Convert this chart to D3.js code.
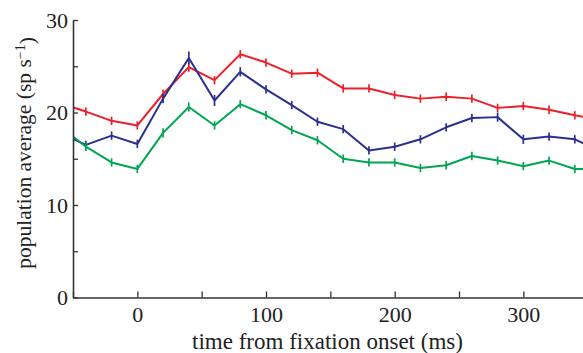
<!DOCTYPE html>
<html><head><meta charset="utf-8">
<script src="https://cdn.jsdelivr.net/npm/d3@7"></script>
<style>body{margin:0;background:#fff}svg{display:block}</style>
</head><body>
<script>
const times = [-60,-40,-20,0,20,40,60,80,100,120,140,160,180,200,220,240,260,280,300,320,340,360];
const redVals   = [21.0,20.1,19.1,18.6,22.0,24.9,23.5,26.3,25.4,24.2,24.3,22.6,22.6,21.9,21.5,21.7,21.5,20.5,20.7,20.3,19.7,19.2];
const blueVals  = [17.8,16.5,17.5,16.6,21.5,25.9,21.3,24.4,22.5,20.8,19.0,18.2,15.9,16.3,17.1,18.4,19.4,19.5,17.1,17.4,17.1,15.8];
const greenVals = [18.5,16.3,14.6,13.9,17.8,20.6,18.6,20.9,19.7,18.1,17.0,15.0,14.6,14.6,14.0,14.3,15.3,14.8,14.2,14.8,13.9,13.9];
const redErr   = [0.45,0.45,0.45,0.45,0.5,0.5,0.45,0.45,0.45,0.45,0.45,0.45,0.45,0.45,0.45,0.45,0.45,0.45,0.45,0.45,0.45,0.45];
const blueErr  = [0.45,0.45,0.45,0.45,0.5,0.7,0.6,0.5,0.45,0.45,0.45,0.45,0.45,0.45,0.45,0.45,0.45,0.5,0.5,0.45,0.45,0.45];
const greenErr = [0.45,0.45,0.45,0.45,0.5,0.5,0.45,0.45,0.45,0.45,0.45,0.45,0.45,0.45,0.45,0.45,0.45,0.45,0.45,0.45,0.45,0.45];
const xMajorTicks = [0,100,200,300];
const xMinorTicks = [-50,50,150,250,350];
const yMajorTicks = [0,10,20,30];
const yMinorTicks = [5,15,25];
const xLabel = "time from fixation onset (ms)";
const yLabelMain = "population average (sp s";
const yLabelSup = "\u22121";

const W = 583, H = 353;
const svg = d3.select("body").append("svg").attr("width", W).attr("height", H);
const x = d3.scaleLinear().domain([-50, 350]).range([73, 73 + 400*1.2867]);
const y = d3.scaleLinear().domain([0, 30]).range([297.5, 20]);

const font = "'Liberation Serif', 'Times New Roman', serif";
const axisColor = "#333";

svg.append("defs").append("clipPath").attr("id","plotclip")
  .append("rect").attr("x", x(-50)).attr("y", 0).attr("width", W - x(-50)).attr("height", y(0));

const series = [
  {vals: redVals, err: redErr, color: "#ec2028"},
  {vals: blueVals, err: blueErr, color: "#2b2f8f"},
  {vals: greenVals, err: greenErr, color: "#00a650"}
];

const g = svg.append("g").attr("clip-path", "url(#plotclip)");
const line = d3.line().x((d,i)=>x(times[i])).y(d=>y(d));
series.forEach(s => {
  g.append("path").datum(s.vals).attr("d", line)
    .attr("fill","none").attr("stroke", s.color).attr("stroke-width", 2).attr("stroke-linejoin","round");
  g.selectAll(null).data(s.vals).enter().append("line")
    .attr("x1",(d,i)=>x(times[i])).attr("x2",(d,i)=>x(times[i]))
    .attr("y1",(d,i)=>y(d - s.err[i])).attr("y2",(d,i)=>y(d + s.err[i]))
    .attr("stroke", s.color).attr("stroke-width", 1.7);
});

// axes
const xAxis = d3.axisBottom(x).tickValues(xMajorTicks).tickSizeInner(-6).tickSizeOuter(0).tickPadding(9).tickFormat(d3.format("d"));
const xg = svg.append("g").attr("transform", `translate(0,${y(0)})`).call(xAxis);
const xMinor = svg.append("g").attr("transform", `translate(0,${y(0)})`)
  .call(d3.axisBottom(x).tickValues(xMinorTicks).tickSizeInner(-6).tickSizeOuter(0).tickFormat(""));
xMinor.select(".domain").remove();

const yAxis = d3.axisLeft(y).tickValues(yMajorTicks).tickSizeInner(-5).tickSizeOuter(0).tickPadding(5).tickFormat(d3.format("d"));
const yg = svg.append("g").attr("transform", `translate(${x(-50)},0)`).call(yAxis);
const yMinor = svg.append("g").attr("transform", `translate(${x(-50)},0)`)
  .call(d3.axisLeft(y).tickValues(yMinorTicks).tickSizeInner(-5).tickSizeOuter(0).tickFormat(""));
yMinor.select(".domain").remove();

svg.selectAll(".domain").attr("stroke", axisColor).attr("stroke-width", 1.6);
svg.selectAll(".tick line").attr("stroke", axisColor).attr("stroke-width", 1.3);
svg.selectAll(".tick text").attr("fill", "#222").style("font-family", font).style("font-size", "22px");
yg.selectAll(".tick text").attr("dy", "0.34em");

// x axis title
svg.append("text").attr("x", 327.5).attr("y", 349).attr("text-anchor","middle")
  .style("font-family", font).style("font-size","23px").attr("fill","#222").text(xLabel);

// y axis title
const yt = svg.append("text").attr("transform", "translate(31,153) rotate(-90)").attr("text-anchor","middle")
  .style("font-family", font).style("font-size","21.5px").attr("fill","#222");
yt.append("tspan").text(yLabelMain);
yt.append("tspan").attr("dy","-0.45em").style("font-size","14px").text(yLabelSup);
yt.append("tspan").attr("dy","0.45em").text(")");
</script>
</body></html>
